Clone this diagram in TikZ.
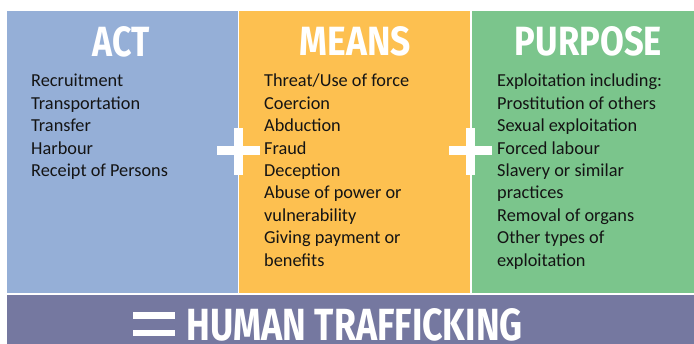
\documentclass[tikz,border=0pt]{standalone}
\usepackage{fontspec}
\setmainfont{Carlito}
\newfontfamily\titlefont{Fira Sans}
\usepackage{graphicx}
\definecolor{actblue}{RGB}{149,175,215}
\definecolor{meansorange}{RGB}{253,192,80}
\definecolor{purposegreen}{RGB}{123,197,140}
\definecolor{bandpurple}{RGB}{117,120,160}
\tikzset{
  titletext/.style={inner sep=0pt, text=white, anchor=center},
  item/.style={inner sep=0pt, anchor=base west, font=\fontsize{18.3}{22}\selectfont, text=black!92},
}
\begin{document}
\begin{tikzpicture}[x=1pt,y=-1pt]
\useasboundingbox (0,0) rectangle (694,344);
\clip (0,0) rectangle (694,344);
\fill[white] (0,0) rectangle (694,344);
% panels
\fill[actblue] (7,11) rectangle (237.5,293);
\fill[meansorange] (239,11) rectangle (470,293);
\fill[purposegreen] (472,11) rectangle (694,293);
\fill[bandpurple] (7,295) rectangle (694,344);
% titles
\node[titletext] (act) at (121.5,42) {\resizebox{57pt}{30pt}{\titlefont\bfseries ACT}};
\node[titletext] (means) at (355.5,41.5) {\resizebox{111pt}{29pt}{\titlefont\bfseries MEANS}};
\node[titletext] (purpose) at (588.5,41.5) {\resizebox{147pt}{29pt}{\titlefont\bfseries PURPOSE}};
\node[titletext, anchor=north west] (ht) at (186.5,308.5) {\resizebox{336pt}{32pt}{\titlefont\bfseries HUMAN TRAFFICKING}};
% equals
\fill[white] (132.5,312.5) rectangle (175,319.5);
\fill[white] (132.5,330) rectangle (175,336.5);
% items
\foreach \t [count=\i] in {Recruitment,Transportation,Transfer,Harbour,Receipt of Persons}
  \node[item] (a\i) at (31,87+22.4*\i-22.4) {\t};
\foreach \t [count=\i] in {Threat/Use of force,Coercion,Abduction,Fraud,Deception,Abuse of power or,vulnerability,Giving payment or,benefits}
  \node[item] (m\i) at (264,87+22.4*\i-22.4) {\t};
\foreach \t [count=\i] in {Exploitation including:,Prostitution of others,Sexual exploitation,Forced labour,Slavery or similar,practices,Removal of organs,Other types of,exploitation}
  \node[item] (p\i) at (497,87+22.4*\i-22.4) {\t};
% plus signs
\fill[white] (217,146) rectangle (260,155);
\fill[white] (234,128) rectangle (243,175);
\fill[white] (449,146) rectangle (492,155);
\fill[white] (466,128) rectangle (475,175);
\end{tikzpicture}
\end{document}
